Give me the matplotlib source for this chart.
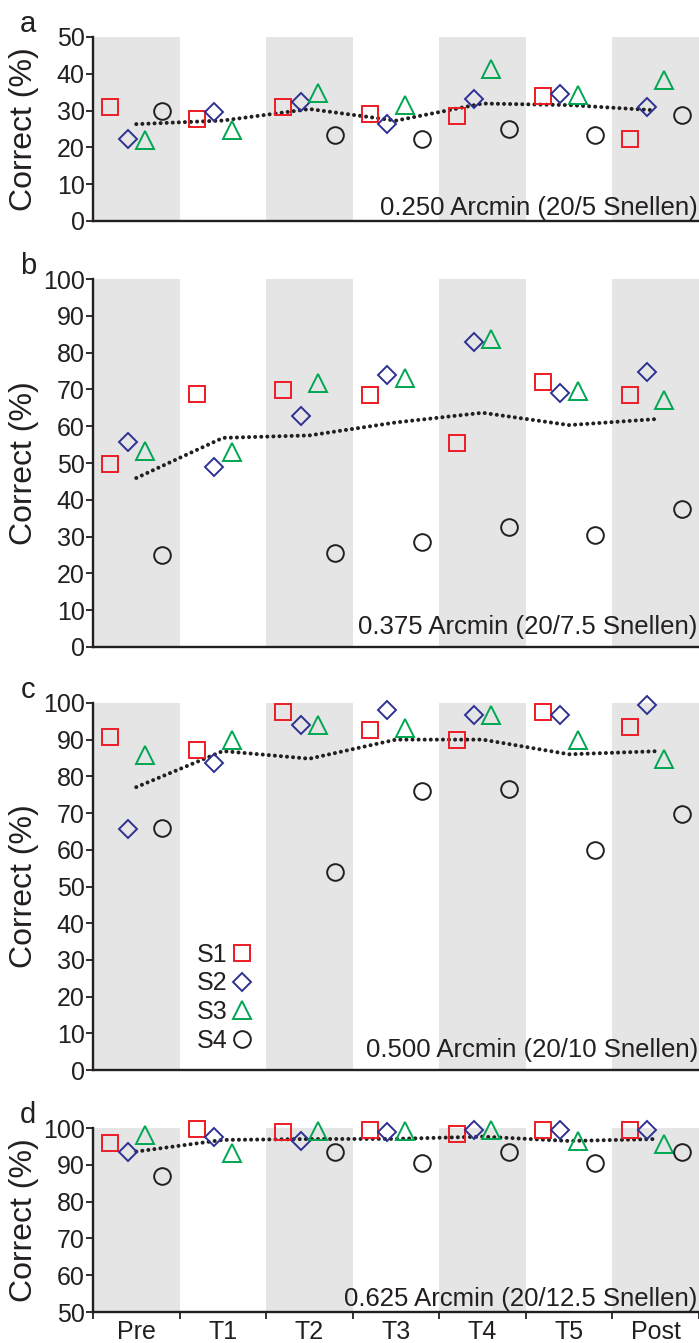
import numpy as np
import matplotlib
matplotlib.use('Agg')
import matplotlib.pyplot as plt

plt.rcParams['font.family'] = ['Liberation Sans', 'DejaVu Sans']

nan = np.nan

########  data  #############
sessions = ['Pre', 'T1', 'T2', 'T3', 'T4', 'T5', 'Post']
subjects = ['S1', 'S2', 'S3', 'S4']

# panel a : 0.250 arcmin
a_s1 = [31.1, 27.7, 31.0, 29.0, 28.4, 33.9, 22.4]
a_s2 = [22.3, 29.5, 32.4, 26.4, 33.2, 34.5, 30.9]
a_s3 = [22.0, 24.7, 34.9, 31.5, 41.2, 34.2, 38.3]
a_s4 = [29.9, nan, 23.4, 22.2, 24.9, 23.4, 28.7]

# panel b : 0.375 arcmin
b_s1 = [49.6, 68.7, 69.8, 68.6, 55.3, 72.0, 68.6]
b_s2 = [55.8, 48.8, 62.8, 73.9, 83.0, 69.1, 74.6]
b_s3 = [53.3, 53.0, 71.8, 73.2, 83.7, 69.7, 67.1]
b_s4 = [25.0, nan, 25.6, 28.4, 32.6, 30.4, 37.4]

# panel c : 0.500 arcmin
c_s1 = [90.8, 87.2, 97.5, 92.6, 90.0, 97.6, 93.5]
c_s2 = [65.7, 83.6, 93.9, 98.1, 96.7, 96.7, 99.5]
c_s3 = [85.9, 89.9, 94.0, 93.3, 96.7, 89.9, 84.7]
c_s4 = [65.9, nan, 53.9, 76.1, 76.7, 59.9, 69.7]

# panel d : 0.625 arcmin
d_s1 = [95.8, 99.6, 98.8, 99.5, 98.3, 99.5, 99.5]
d_s2 = [93.6, 97.5, 96.6, 99.0, 99.5, 99.5, 99.5]
d_s3 = [98.0, 93.2, 99.2, 99.3, 99.4, 96.5, 95.6]
d_s4 = [87.0, nan, 93.4, 90.4, 93.4, 90.4, 93.4]

panel_letters = ['a', 'b', 'c', 'd']
panel_titles = ['0.250 Arcmin (20/5 Snellen)', '0.375 Arcmin (20/7.5 Snellen)',
                '0.500 Arcmin (20/10 Snellen)', '0.625 Arcmin (20/12.5 Snellen)']
panel_ylims = [(0, 50), (0, 100), (0, 100), (50, 100)]
panel_data = [[a_s1, a_s2, a_s3, a_s4], [b_s1, b_s2, b_s3, b_s4],
              [c_s1, c_s2, c_s3, c_s4], [d_s1, d_s2, d_s3, d_s4]]

## styles
markers = ['s', 'D', '^', 'o']
msizes = [12, 9.5, 13.5, 12]
colors = ['#ED1C24', '#2E3192', '#00A651', '#231F20']
offsets = [-0.3, -0.1, 0.1, 0.3]
ink = '#231F20'
shade = '#E5E5E5'

W, H = 699, 1343
fig = plt.figure(figsize=(W / 100, H / 100), dpi=100)

# axes boxes in pixels: (top, bottom)
boxes = [(37, 221), (279, 647), (703, 1070), (1128, 1312)]
left_px = 93

x = np.arange(len(sessions))

for i, (top, bot) in enumerate(boxes):
  ax = fig.add_axes([left_px / W, 1 - bot / H, (W - left_px) / W, (bot - top) / H])
  y0, y1 = panel_ylims[i]
  ax.set_xlim(-0.5, len(sessions) - 0.5)
  ax.set_ylim(y0, y1)

  # gray bands on every other session
  for k in range(0, len(sessions), 2):
    ax.axvspan(k - 0.5, k + 0.5, color=shade, lw=0, zorder=0)

  # mean across subjects
  data = np.array(panel_data[i], dtype=float)
  mean = np.nanmean(data, axis=0)
  ax.plot(x, mean, color=ink, lw=2.9, linestyle=(0, (0.01, 1.5)),
          dash_capstyle='round', zorder=2)

  for s in range(len(subjects)):
    ax.plot(x + offsets[s], data[s], linestyle='none', marker=markers[s],
            ms=msizes[s], mfc='none', mec=colors[s], mew=1.4,
            clip_on=False, zorder=3, label=subjects[s])

  for side in ['top', 'right']:
    ax.spines[side].set_visible(False)
  for side in ['left', 'bottom']:
    ax.spines[side].set_linewidth(1.7)
    ax.spines[side].set_color(ink)

  ax.set_yticks(np.arange(y0, y1 + 1, 10))
  ax.tick_params(axis='y', direction='out', length=5, width=1.3, colors=ink,
                 labelsize=18, pad=1)

  if i == 3:
    ax.set_xticks(np.arange(-0.5, len(sessions), 1.0))
    ax.set_xticklabels([])
    ax.set_xticks(x, minor=True)
    ax.set_xticklabels(sessions, minor=True)
    ax.tick_params(axis='x', which='major', direction='out', length=5, width=1.3,
                   colors=ink)
    ax.tick_params(axis='x', which='minor', length=0, labelsize=18, pad=6,
                   colors=ink)
  else:
    ax.set_xticks([])

  ax.text(0.998, 0.035, panel_titles[i], transform=ax.transAxes, ha='right',
          va='baseline', fontsize=18.5, color=ink)

  fig.text(24 / W, 1 - (top + bot) / 2 / H, 'Correct (%)', rotation=90,
           ha='center', va='center', fontsize=23, color=ink)
  fig.text(28 / W, 1 - (top - 5) / H, panel_letters[i], ha='center',
           va='baseline', fontsize=21, color=ink)

  if i == 2:
    ax.legend(loc='upper left', bbox_to_anchor=(0.15, 0.381), frameon=False,
              markerfirst=False, numpoints=1, handlelength=0.9,
              handletextpad=0.15, labelspacing=0.19, borderpad=0,
              fontsize=18, labelcolor=ink)

fig.savefig('out.png', dpi=100)
